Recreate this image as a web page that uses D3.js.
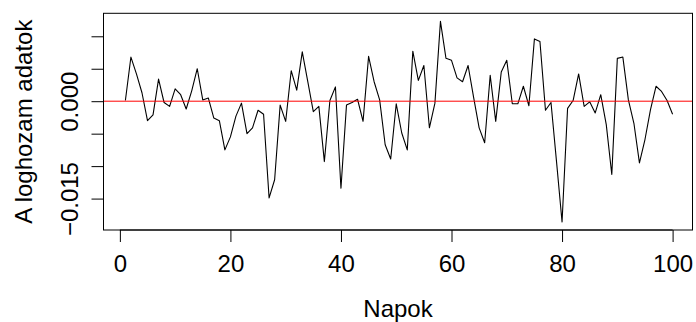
<!DOCTYPE html>
<html>
<head>
<meta charset="utf-8">
<script src="https://cdn.jsdelivr.net/npm/d3@7"></script>
<style>
  html, body { margin: 0; padding: 0; background: #fff; }
  svg { display: block; }
  text { font-family: "Liberation Sans", Arial, Helvetica, sans-serif; fill: #000; }
</style>
</head>
<body>
<svg id="chart" width="696" height="322"></svg>
<script>
// Data: daily log returns
const days = d3.range(1, 101);
const logReturns = [
  0.0001, 0.0068, 0.0042, 0.0013, -0.0030, -0.0021, 0.0034, -0.0002, -0.0008, 0.0019,
  0.0010, -0.0012, 0.0016, 0.0050, 0.0002, 0.0005, -0.0026, -0.0030, -0.0075, -0.0055,
  -0.0023, -0.0003, -0.0050, -0.0041, -0.0014, -0.0020, -0.0149, -0.0121, -0.0006, -0.0031,
  0.0047, 0.0017, 0.0076, 0.0030, -0.0016, -0.0008, -0.0093, 0.0001, 0.0022, -0.0134,
  -0.0006, -0.0002, 0.0003, -0.0031, 0.0069, 0.0030, 0.0002, -0.0067, -0.0089, -0.0004,
  -0.0049, -0.0075, 0.0077, 0.0032, 0.0055, -0.0041, -0.0003, 0.0123, 0.0066, 0.0063,
  0.0036, 0.0030, 0.0055, 0.0006, -0.0041, -0.0064, 0.0040, -0.0031, 0.0045, 0.0063,
  -0.0004, -0.0004, 0.0023, -0.0007, 0.0096, 0.0092, -0.0014, -0.0002, -0.0093, -0.0186,
  -0.0011, 0.0001, 0.0042, -0.0008, -0.0001, -0.0018, 0.0010, -0.0036, -0.0113, 0.0066,
  0.0068, 0.0002, -0.0034, -0.0095, -0.0059, -0.0013, 0.0023, 0.0015, 0.0001, -0.0020
];
const xTicks = [0, 20, 40, 60, 80, 100];
const yTicks = [-0.015, -0.010, -0.005, 0.000, 0.005, 0.010];
const yTickLabels = ["\u22120.015", "", "", "0.000", "", ""];
const refLevel = [0];
const xTitle = "Napok";
const yTitle = "A loghozam adatok";

const svg = d3.select("#chart");
const plot = { left: 103.5, right: 692.5, top: 13.3, bottom: 230 };

const x = d3.scaleLinear().domain([-2.96, 103.6]).range([plot.left, plot.right]);
const y = d3.scaleLinear().domain([-0.01984, 0.01354]).range([plot.bottom, plot.top]);

svg.append("clipPath").attr("id", "clip")
  .append("rect")
  .attr("x", plot.left).attr("y", plot.top)
  .attr("width", plot.right - plot.left).attr("height", plot.bottom - plot.top);

const data = days.map((d, i) => ({ day: d, v: logReturns[i] }));

// series line
svg.append("path")
  .datum(data)
  .attr("clip-path", "url(#clip)")
  .attr("fill", "none")
  .attr("stroke", "#000")
  .attr("stroke-width", 1.1)
  .attr("stroke-linejoin", "round")
  .attr("d", d3.line().x(d => x(d.day)).y(d => y(d.v)));

// reference line at 0
svg.selectAll(".ref").data(refLevel).enter().append("line")
  .attr("class", "ref")
  .attr("x1", plot.left).attr("x2", plot.right)
  .attr("y1", d => y(d)).attr("y2", d => y(d))
  .attr("stroke", "#ff0000").attr("stroke-width", 1);

// box
svg.append("rect")
  .attr("x", plot.left).attr("y", plot.top)
  .attr("width", plot.right - plot.left).attr("height", plot.bottom - plot.top)
  .attr("fill", "none").attr("stroke", "#000").attr("stroke-width", 1);

// x axis
const xAxis = d3.axisBottom(x).tickValues(xTicks).tickSize(12).tickPadding(0).tickFormat(d3.format("d"));
const gx = svg.append("g").attr("transform", `translate(0,${plot.bottom})`).call(xAxis);
gx.select(".domain").attr("d", `M${x(xTicks[0])},0H${x(xTicks[xTicks.length-1])}`).attr("stroke", "#000");
gx.selectAll(".tick line").attr("stroke", "#000");
gx.selectAll(".tick text")
  .attr("y", 41.5).attr("dy", null)
  .style("font-size", "24px")
  .style("font-family", '"Liberation Sans", Arial, sans-serif')
  .attr("fill", "#000");

// y axis
const yAxis = d3.axisLeft(y).tickValues(yTicks).tickSize(12)
  .tickFormat((d, i) => yTickLabels[i]);
const gy = svg.append("g").attr("transform", `translate(${plot.left},0)`).call(yAxis);
gy.select(".domain").attr("d", `M0,${y(yTicks[0])}V${y(yTicks[yTicks.length-1])}`).attr("stroke", "#000");
gy.selectAll(".tick line").attr("stroke", "#000");
gy.selectAll(".tick text")
  .attr("x", null).attr("dy", null)
  .attr("transform", "translate(-25.5,0) rotate(-90)")
  .attr("text-anchor", "middle")
  .style("font-size", "24px")
  .style("font-family", '"Liberation Sans", Arial, sans-serif')
  .attr("fill", "#000");

// titles
svg.append("text")
  .attr("x", (plot.left + plot.right) / 2).attr("y", 317)
  .attr("text-anchor", "middle")
  .style("font-size", "24px")
  .text(xTitle);

svg.append("text")
  .attr("transform", `translate(31.5,${(plot.top + plot.bottom) / 2}) rotate(-90)`)
  .attr("text-anchor", "middle")
  .style("font-size", "24px")
  .text(yTitle);
</script>
</body>
</html>
